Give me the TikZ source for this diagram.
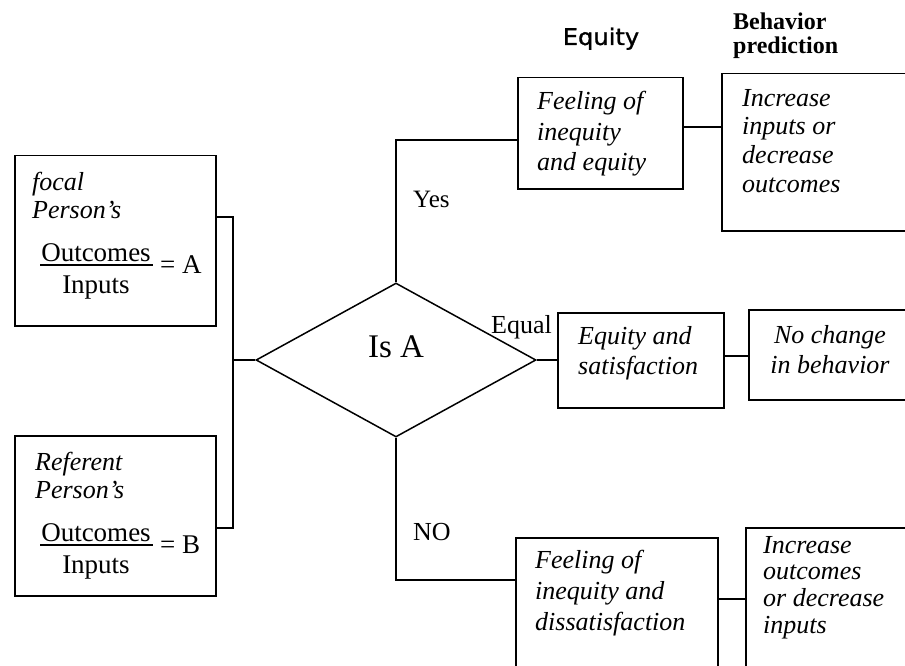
\documentclass[tikz,border=0pt]{standalone}
\usepackage{fontspec}
\setmainfont{Liberation Serif}
\newfontfamily\headsans[FakeBold=1.2,FakeStretch=1.05]{DejaVu Sans}
\usetikzlibrary{shapes.geometric}
\begin{document}
\begin{tikzpicture}[x=1pt,y=-1pt,
  box/.style={draw, line width=1.5pt, rectangle, inner sep=0pt, anchor=north west},
  link/.style={line width=1.5pt},
  fracbar/.style={line width=1.1pt},
  itxt/.style={inner sep=0pt, anchor=north west, align=left, font=\fontsize{26}{#1}\selectfont\itshape},
  rtxt/.style={inner sep=0pt, font=\fontsize{#1}{#1}\selectfont},
]
\useasboundingbox (0,0) rectangle (905,666);
\clip (0,0) rectangle (905,666);

% column headings
\node[inner sep=0pt, anchor=base, font=\headsans\fontsize{23}{23}\selectfont] (eqh) at (601,45) {Equity};
\node[inner sep=0pt, anchor=north west, align=left, font=\fontsize{24}{24}\selectfont\bfseries] (bph) at (733,13) {Behavior\\prediction};

% focal person
\node[box, minimum width=201, minimum height=170] (fa) at (14,155) {};
\node[itxt=28] (fat) at (32,172) {focal\\Person’s};
\node[rtxt=27, anchor=base] (fan) at (96,261) {Outcomes};
\node[rtxt=27, anchor=base] (fad) at (96,293) {Inputs};
\node[rtxt=27, anchor=base west] (fae) at (160,273) {= A};
\draw[fracbar] ([yshift=-4pt,xshift=-1pt]fan.base west) -- ([yshift=-4pt,xshift=2pt]fan.base east);

% referent person
\node[box, minimum width=201, minimum height=160] (fb) at (14,435) {};
\node[itxt=28] (fbt) at (35,452) {Referent\\Person’s};
\node[rtxt=27, anchor=base] (fbn) at (96,541) {Outcomes};
\node[rtxt=27, anchor=base] (fbd) at (96,573) {Inputs};
\node[rtxt=27, anchor=base west] (fbe) at (160,553) {= B};
\draw[fracbar] ([yshift=-4pt,xshift=-1pt]fbn.base west) -- ([yshift=-4pt,xshift=2pt]fbn.base east);

% comparison
\node[draw, diamond, line width=1.5pt, minimum width=280, minimum height=154, inner sep=0pt] (dia) at (396,360) {};
\node[rtxt=33, anchor=base] (isa) at (396,357) {Is A};

% outcome of the comparison
\node[box, minimum width=165, minimum height=111] (fy) at (517,77) {};
\node[itxt=30.5] (fyt) at (537,91) {Feeling of\\inequity\\and equity};
\node[box, minimum width=200, minimum height=157] (by) at (721,73) {};
\node[itxt=28.7] (byt) at (742,89) {Increase\\inputs or\\decrease\\outcomes};

\node[box, minimum width=166, minimum height=95] (fe) at (557,312) {};
\node[itxt=30] (fet) at (578,326) {Equity and\\satisfaction};
\node[box, minimum width=200, minimum height=90] (bn) at (748,309) {};
\node[itxt=30, anchor=north, align=center] (bnt) at (830,325) {No change\\in behavior};

\node[box, minimum width=202, minimum height=150] (fn) at (515,537) {};
\node[itxt=31] (fnt) at (535,550) {Feeling of\\inequity and\\dissatisfaction};
\node[box, minimum width=200, minimum height=160] (bi) at (745,527) {};
\node[itxt=26.7] (bit) at (763,536) {Increase\\outcomes\\or decrease\\inputs};

% branch labels
\node[rtxt=25, anchor=base west] (lyes) at (413,207) {Yes};
\node[rtxt=26, anchor=base west] (leq) at (491,333) {Equal};
\node[rtxt=26, anchor=base west] (lno) at (413,540) {NO};

% junction points
\coordinate (busTop) at (233,217);
\coordinate (busBot) at (233,528);
\coordinate (busMid) at (233,360);
\coordinate (yesRow) at (0,140);
\coordinate (noRow) at (0,580);
\coordinate (rowY) at (0,127);
\coordinate (rowE) at (0,356);
\coordinate (rowN) at (0,599);

% connectors
\draw[link] (fa.east |- busTop) -- (busTop) -- (busBot) -- (fb.east |- busBot);
\draw[link] (busMid) -- (dia.west);
\draw[link] (dia.north) |- (fy.west |- yesRow);
\draw[link] (dia.east) -- (fe.west |- dia.east);
\draw[link] (dia.south) |- (fn.west |- noRow);
\draw[link] (fy.east |- rowY) -- (by.west |- rowY);
\draw[link] (fe.east |- rowE) -- (bn.west |- rowE);
\draw[link] (fn.east |- rowN) -- (bi.west |- rowN);
\end{tikzpicture}
\end{document}
